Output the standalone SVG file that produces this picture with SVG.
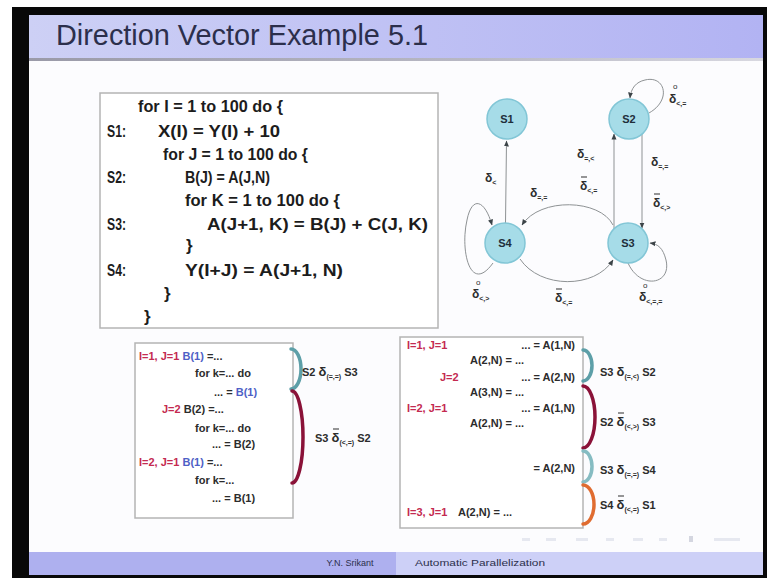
<svg xmlns="http://www.w3.org/2000/svg" width="767" height="578" viewBox="0 0 767 578">
<defs>
<linearGradient id="hdr" x1="0" y1="0" x2="1" y2="0">
<stop offset="0" stop-color="#cdd0f5"/><stop offset="1" stop-color="#b2b3f3"/>
</linearGradient>
<linearGradient id="shadow" x1="0" y1="0" x2="1" y2="0">
<stop offset="0" stop-color="#9a9aa8"/><stop offset="0.6" stop-color="#b8b8c4"/><stop offset="1" stop-color="#d8d8e0"/>
</linearGradient>
<marker id="ah" markerUnits="userSpaceOnUse" markerWidth="6" markerHeight="6" refX="5.5" refY="3" orient="auto">
<path d="M0,0.5 L6,3 L0,5.5 z" fill="#3c4448"/>
</marker>
<style>
.code{font-family:"Liberation Sans",Arial,sans-serif;font-weight:bold;font-size:17px;fill:#1c1c1c}
.ex{font-family:"Liberation Sans",Arial,sans-serif;font-weight:bold;font-size:11px;fill:#2c2c2c}
.red{fill:#c42a50}
.blue{fill:#4e5fc6}
.sub{font-size:7px}
.dl{font-size:13px}
.gl{font-family:"Liberation Sans",Arial,sans-serif;font-weight:bold;font-size:12px;fill:#2e2e2e}
.gs{font-size:7px}
.sup{font-family:"Liberation Sans",Arial,sans-serif;font-size:8px;fill:#2e2e2e}
.node circle{fill:#a6dce8;stroke:#82c6d6;stroke-width:1.5}
.node text{font-family:"Liberation Sans",Arial,sans-serif;font-weight:bold;font-size:11px;fill:#1e2e3a;text-anchor:middle}
.edge{stroke:#8e9294;stroke-width:1;fill:none;marker-end:url(#ah)}
.bar{stroke:#2e2e2e;stroke-width:1}
.box{fill:#ffffff;stroke:#b4b4b4;stroke-width:1.5}
.arc{fill:none;stroke-width:3.5;stroke-linecap:round}
</style>
</defs>

<!-- frame -->
<rect x="0" y="0" width="767" height="578" fill="#ffffff"/>
<rect x="12" y="7" width="755" height="571" fill="#080808"/>
<rect x="29" y="15" width="734" height="560" fill="#fcfcfe"/>
<!-- header -->
<rect x="29" y="15" width="734" height="43" fill="url(#hdr)"/>
<rect x="29" y="58" width="734" height="3" fill="url(#shadow)"/>
<text x="56" y="45" font-family="'Liberation Sans',Arial,sans-serif" font-size="29" fill="#2c2f4c" textLength="372" lengthAdjust="spacingAndGlyphs">Direction Vector Example 5.1</text>
<!-- footer -->
<rect x="29" y="552" width="367" height="23" fill="#aeb0ef"/>
<rect x="396" y="552" width="367" height="23" fill="#cdd0f7"/>
<text x="350" y="566" text-anchor="middle" font-family="'Liberation Sans',Arial,sans-serif" font-size="9" fill="#2c2f4c">Y.N. Srikant</text>
<text x="415" y="566" font-family="'Liberation Sans',Arial,sans-serif" font-size="9" fill="#2c2f4c" textLength="130" lengthAdjust="spacingAndGlyphs">Automatic Parallelization</text>
<!-- faint navigation symbols -->
<g fill="#e6e8f0">
<rect x="522" y="538" width="8" height="3"/><rect x="546" y="538" width="10" height="3"/>
<rect x="576" y="538" width="12" height="3"/><rect x="606" y="538" width="8" height="3"/>
<rect x="633" y="538" width="10" height="3"/><rect x="659" y="538" width="8" height="3"/>
<rect x="689" y="536" width="4" height="6" fill="#d4d6e0"/><rect x="714" y="538" width="26" height="3"/>
</g>

<!-- code box -->
<g id="code">
<rect class="box" x="100" y="93" width="338" height="235"/>
<text class="code" x="138" y="112" textLength="145" lengthAdjust="spacingAndGlyphs">for I = 1 to 100 do {</text>
<text class="code" x="107" y="137" textLength="19" lengthAdjust="spacingAndGlyphs">S1:</text>
<text class="code" x="158" y="137" textLength="122" lengthAdjust="spacingAndGlyphs">X(I) = Y(I) + 10</text>
<text class="code" x="163" y="160" textLength="145" lengthAdjust="spacingAndGlyphs">for J = 1 to 100 do {</text>
<text class="code" x="107" y="183" textLength="19" lengthAdjust="spacingAndGlyphs">S2:</text>
<text class="code" x="185" y="183" textLength="85" lengthAdjust="spacingAndGlyphs">B(J) = A(J,N)</text>
<text class="code" x="185" y="206" textLength="155" lengthAdjust="spacingAndGlyphs">for K = 1 to 100 do {</text>
<text class="code" x="107" y="230" textLength="19" lengthAdjust="spacingAndGlyphs">S3:</text>
<text class="code" x="207" y="230" textLength="221" lengthAdjust="spacingAndGlyphs">A(J+1, K) = B(J) + C(J, K)</text>
<text class="code" x="186" y="251">}</text>
<text class="code" x="107" y="276" textLength="19" lengthAdjust="spacingAndGlyphs">S4:</text>
<text class="code" x="185" y="276" textLength="158" lengthAdjust="spacingAndGlyphs">Y(I+J) = A(J+1, N)</text>
<text class="code" x="164" y="299">}</text>
<text class="code" x="144" y="322">}</text>
</g>

<!-- graph connectors -->
<g id="connectors">
<line class="edge" x1="505.5" y1="223" x2="506.5" y2="141"/>
<line class="edge" x1="614" y1="230" x2="614" y2="134"/>
<line class="edge" x1="642" y1="134" x2="642" y2="228"/>
<path class="edge" d="M613,225 C600,199 540,197 522,225"/>
<path class="edge" d="M520,259 C540,289 595,289 613,260"/>
<path class="edge" d="M493,263 C470,295 460,250 467,220 C472,195 485,200 492,225"/>
<path class="edge" d="M628,263 C640,290 672,285 666,260 C663,248 658,244 650,243"/>
<path class="edge" d="M649,113 C672,100 665,75 645,80 C636,82 631,88 630,98"/>
</g>

<!-- graph labels -->
<g id="graph-labels">
<text class="gl" x="485" y="182">δ<tspan class="gs" dy="3">&lt;</tspan></text>
<text class="gl" x="530" y="197">δ<tspan class="gs" dy="3">=,=</tspan></text>
<text class="gl" x="577" y="158">δ<tspan class="gs" dy="3">=,&lt;</tspan></text>
<line class="bar" x1="581" y1="177" x2="587" y2="177"/>
<text class="gl" x="580" y="190">δ<tspan class="gs" dy="3">&lt;,=</tspan></text>
<text class="gl" x="651" y="166">δ<tspan class="gs" dy="3">=,=</tspan></text>
<line class="bar" x1="654" y1="194" x2="660" y2="194"/>
<text class="gl" x="653" y="207">δ<tspan class="gs" dy="3">&lt;,&gt;</tspan></text>
<text class="sup" x="673" y="89">o</text>
<text class="gl" x="669" y="103">δ<tspan class="gs" dy="3">&lt;,=</tspan></text>
<line class="bar" x1="556" y1="289" x2="562" y2="289"/>
<text class="gl" x="555" y="302">δ<tspan class="gs" dy="3">&lt;,=</tspan></text>
<text class="sup" x="476" y="285">o</text>
<text class="gl" x="472" y="298">δ<tspan class="gs" dy="3">&lt;,&gt;</tspan></text>
<text class="sup" x="643" y="288">o</text>
<text class="gl" x="639" y="301">δ<tspan class="gs" dy="3">&lt;,=,=</tspan></text>
</g>

<!-- nodes -->
<g id="S1" class="node"><circle cx="507" cy="119" r="20"/><text x="507" y="123">S1</text></g>
<g id="S2" class="node"><circle cx="629" cy="119" r="20"/><text x="629" y="123">S2</text></g>
<g id="S3" class="node"><circle cx="628" cy="243" r="20"/><text x="628" y="247">S3</text></g>
<g id="S4" class="node"><circle cx="505" cy="243" r="20"/><text x="505" y="247">S4</text></g>

<!-- lower-left example -->
<g id="example-B">
<rect class="box" x="135" y="343" width="158" height="175"/>
<text class="ex" x="139" y="360"><tspan class="red">I=1, J=1</tspan><tspan class="blue"> B(1)</tspan> =...</text>
<text class="ex" x="195" y="377">for k=... do</text>
<text class="ex" x="214" y="396">... = <tspan class="blue">B(1)</tspan></text>
<text class="ex" x="162" y="413"><tspan class="red">J=2</tspan> B(2) =...</text>
<text class="ex" x="195" y="432">for k=... do</text>
<text class="ex" x="212" y="448">... = B(2)</text>
<text class="ex" x="139" y="466"><tspan class="red">I=2, J=1</tspan><tspan class="blue"> B(1)</tspan> =...</text>
<text class="ex" x="195" y="484">for k=...</text>
<text class="ex" x="212" y="502">... = B(1)</text>
</g>
<g id="arcs-B">
<path class="arc" stroke="#5d9fa8" d="M291,349 A10,20 0 0 1 291,389"/>
<path class="arc" stroke="#8a1238" d="M292,391 A11,46 0 0 1 292,483"/>
</g>
<g id="labels-B">
<text class="ex" x="302" y="376">S2 <tspan class="dl">δ</tspan><tspan class="sub" dy="3">(=,=)</tspan><tspan dy="-3"> S3</tspan></text>
<line class="bar" x1="333" y1="429" x2="339" y2="429"/>
<text class="ex" x="315" y="442">S3 <tspan class="dl">δ</tspan><tspan class="sub" dy="3">(&lt;,=)</tspan><tspan dy="-3"> S2</tspan></text>
</g>

<!-- lower-right example -->
<g id="example-A">
<rect class="box" x="400" y="337" width="183" height="191"/>
<text class="ex red" x="407" y="349">I=1, J=1</text>
<text class="ex" x="575" y="349" text-anchor="end">... = A(1,N)</text>
<text class="ex" x="470" y="364">A(2,N) = ...</text>
<text class="ex red" x="440" y="381">J=2</text>
<text class="ex" x="575" y="381" text-anchor="end">... = A(2,N)</text>
<text class="ex" x="470" y="396">A(3,N) = ...</text>
<text class="ex red" x="407" y="412">I=2, J=1</text>
<text class="ex" x="575" y="412" text-anchor="end">... = A(1,N)</text>
<text class="ex" x="470" y="427">A(2,N) = ...</text>
<text class="ex" x="575" y="472" text-anchor="end">= A(2,N)</text>
<text class="ex red" x="407" y="516">I=3, J=1</text>
<text class="ex" x="458" y="516">A(2,N) = ...</text>
</g>
<g id="arcs-A">
<path class="arc" stroke="#5d9fa8" d="M583,350 A9,15.5 0 0 1 583,381"/>
<path class="arc" stroke="#8a1238" d="M583,386 A12,31 0 0 1 583,448"/>
<path class="arc" stroke="#86bcc2" d="M583,451 A9,15.5 0 0 1 583,482"/>
<path class="arc" stroke="#e06c30" d="M583,485 A11,19.5 0 0 1 583,524"/>
</g>
<g id="labels-A">
<text class="ex" x="600" y="376">S3 <tspan class="dl">δ</tspan><tspan class="sub" dy="3">(=,&lt;)</tspan><tspan dy="-3"> S2</tspan></text>
<line class="bar" x1="618" y1="413" x2="624" y2="413"/>
<text class="ex" x="600" y="426">S2 <tspan class="dl">δ</tspan><tspan class="sub" dy="3">(&lt;,&gt;)</tspan><tspan dy="-3"> S3</tspan></text>
<text class="ex" x="600" y="474">S3 <tspan class="dl">δ</tspan><tspan class="sub" dy="3">(=,=)</tspan><tspan dy="-3"> S4</tspan></text>
<line class="bar" x1="618" y1="496" x2="624" y2="496"/>
<text class="ex" x="600" y="509">S4 <tspan class="dl">δ</tspan><tspan class="sub" dy="3">(&lt;,=)</tspan><tspan dy="-3"> S1</tspan></text>
</g>
</svg>
